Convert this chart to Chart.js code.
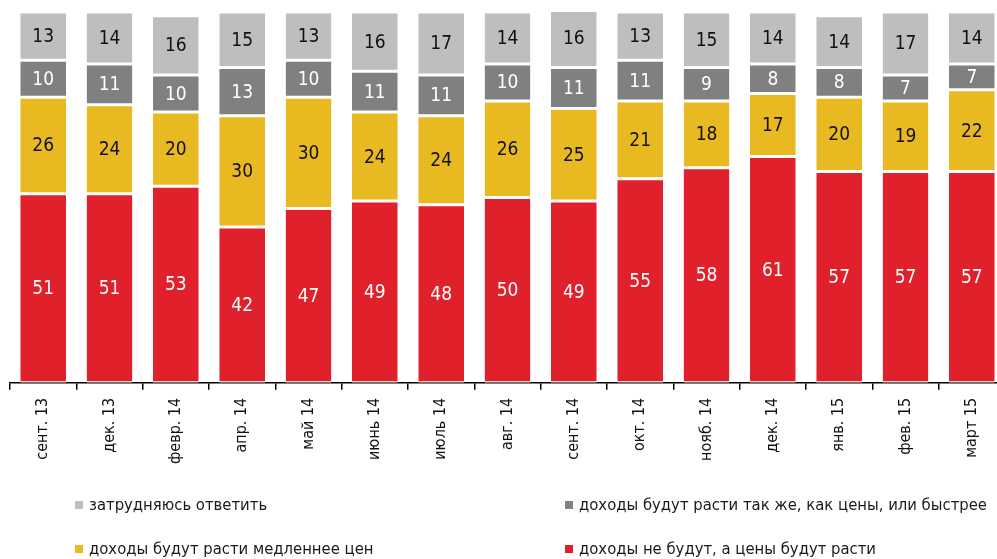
<!DOCTYPE html>
<html lang="ru">
<head>
<meta charset="UTF-8">
<script src="https://cdn.jsdelivr.net/npm/chart.js"></script>
<title>Ожидания доходов и цен</title>
<style>
    body { margin: 0; background: #fff; overflow: hidden; width: 997px; height: 559px; }
    .grafico { position: absolute; left: 0; top: 0; width: 1008px; height: 472px; }
    .legenda { position: absolute; left: 0; top: 0; width: 997px; height: 559px; pointer-events: none;
        font-family: "Liberation Sans Narrow", "DejaVu Sans Condensed", sans-serif; font-size: 16.5px; color: #1a1a1a; }
    .item { position: absolute; white-space: nowrap; line-height: 20px; }
    .item i { display: inline-block; width: 8px; height: 8px; margin-right: 6px; vertical-align: 1px; }
</style>
</head>
<body>
<div class="grafico"><canvas id="MyChart"></canvas></div>
<div class="legenda" id="legenda"></div>
<script>
    // dados
    var meses = ['сент. 13', 'дек. 13', 'февр. 14', 'апр. 14', 'май 14', 'июнь 14', 'июль 14',
        'авг. 14', 'сент. 14', 'окт. 14', 'нояб. 14', 'дек. 14', 'янв. 15', 'фев. 15', 'март 15'];
    var naoCrescem = [51, 51, 53, 42, 47, 49, 48, 50, 49, 55, 58, 61, 57, 57, 57];
    var maisDevagar = [26, 24, 20, 30, 30, 24, 24, 26, 25, 21, 18, 17, 20, 19, 22];
    var igualOuMais = [10, 11, 10, 13, 10, 11, 11, 10, 11, 11, 9, 8, 8, 7, 7];
    var dificil = [13, 14, 16, 15, 13, 16, 17, 14, 16, 13, 15, 14, 14, 17, 14];

    var fonte = '"Liberation Sans Narrow", "DejaVu Sans Condensed", sans-serif';

    function serie(label, data, cor, corTexto) {
        return {
            label: label, data: data, backgroundColor: cor, corTexto: corTexto,
            borderColor: '#fff', borderWidth: { top: 1.5, bottom: 1.5, left: 0, right: 0 }, borderSkipped: false,
            barPercentage: 0.69, categoryPercentage: 1
        };
    }

    var rotulos = {
        id: 'rotulos',
        afterDatasetsDraw: function (chart) {
            var ctx = chart.ctx;
            ctx.save();
            ctx.font = '19px ' + fonte;
            ctx.textAlign = 'center';
            ctx.textBaseline = 'middle';
            chart.data.datasets.forEach(function (ds, i) {
                chart.getDatasetMeta(i).data.forEach(function (bar, j) {
                    var p = bar.getProps(['x', 'y', 'base'], true);
                    ctx.fillStyle = ds.corTexto;
                    ctx.fillText(ds.data[j], p.x, (p.y + p.base) / 2 + 1);
                });
            });
            ctx.restore();
        }
    };

    var dados = {
        labels: meses,
        datasets: [
            serie('доходы не будут, а цены будут расти', naoCrescem, '#E0202A', '#fff'),
            serie('доходы будут расти медленнее цен', maisDevagar, '#E8B921', '#111'),
            serie('доходы будут расти так же, как цены, или быстрее', igualOuMais, '#808080', '#fff'),
            serie('затрудняюсь ответить', dificil, '#BEBEBE', '#111')
        ]
    };

    var MyChart = new Chart(document.getElementById('MyChart'), {
        type: 'bar',
        data: dados,
        plugins: [rotulos],
        options: {
            responsive: true,
            maintainAspectRatio: false,
            animation: false,
            layout: { padding: { left: 10, right: 3, top: 12 } },
            plugins: { legend: { display: false }, tooltip: { enabled: false } },
            scales: {
                x: {
                    stacked: true,
                    grid: { offset: true, drawOnChartArea: false, tickLength: 7, color: '#000', lineWidth: 1.5 },
                    border: { color: '#000', width: 1.5 },
                    ticks: { minRotation: 90, maxRotation: 90, padding: 8, color: '#111', font: { family: fonte, size: 16 } }
                },
                y: { stacked: true, display: false, min: 0, max: 100 }
            }
        }
    });

    // legenda em duas colunas
    var posicoes = [[3, 75, 495], [2, 565, 495], [1, 75, 539], [0, 565, 539]];
    posicoes.forEach(function (p) {
        var ds = dados.datasets[p[0]];
        var div = document.createElement('div');
        div.className = 'item';
        div.style.left = p[1] + 'px';
        div.style.top = p[2] + 'px';
        div.innerHTML = '<i style="background:' + ds.backgroundColor + '"></i>' + ds.label;
        legenda.appendChild(div);
    });
</script>
</body>
</html>
